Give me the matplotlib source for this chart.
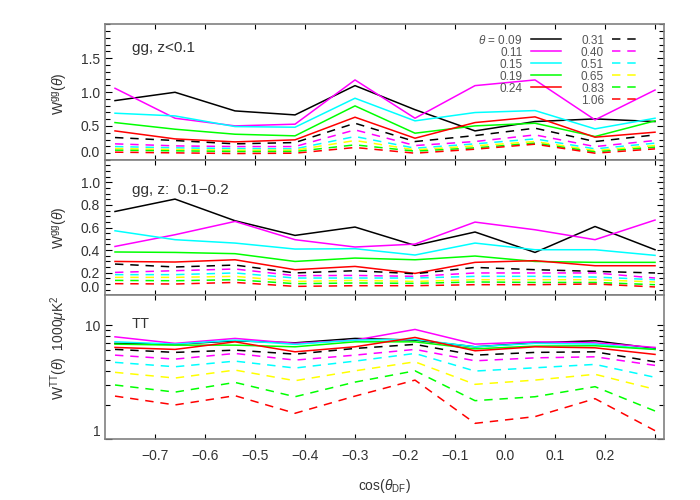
import matplotlib
matplotlib.use("Agg")
import matplotlib.pyplot as plt
import matplotlib.ticker as ticker
from matplotlib.lines import Line2D
import numpy as np

plt.rcParams['font.family'] = ['Liberation Sans', 'DejaVu Sans']
plt.rcParams['mathtext.fontset'] = 'custom'
plt.rcParams['mathtext.rm'] = 'Liberation Sans'
plt.rcParams['mathtext.it'] = 'Liberation Sans:italic'

# bin centres in cos(theta_DF)
cos_df = [-0.78, -0.66, -0.54, -0.42, -0.30, -0.18, -0.06, 0.06, 0.18, 0.30]

theta = ["0.09", "0.11", "0.15", "0.19", "0.24", "0.31", "0.40", "0.51", "0.65", "0.83", "1.06"]
colors = ["black", "#ff00ff", "#00ffff", "#00ff00", "#ff0000",
          "black", "#ff00ff", "#00ffff", "#ffff00", "#00ff00", "#ff0000"]
dashed = [False] * 5 + [True] * 6

# gg, z<0.1
w_gg_z1 = [
    [0.874, 0.997, 0.722, 0.663, 1.095, 0.740, 0.427, 0.565, 0.604, 0.565],
    [1.056, 0.614, 0.501, 0.526, 1.179, 0.614, 1.095, 1.179, 0.590, 1.030],
    [0.688, 0.648, 0.491, 0.481, 0.909, 0.575, 0.698, 0.727, 0.457, 0.614],
    [0.550, 0.452, 0.378, 0.354, 0.796, 0.393, 0.501, 0.540, 0.344, 0.575],
    [0.427, 0.309, 0.265, 0.295, 0.629, 0.319, 0.550, 0.634, 0.334, 0.408],
    [0.329, 0.285, 0.236, 0.255, 0.540, 0.270, 0.358, 0.467, 0.270, 0.368],
    [0.236, 0.206, 0.196, 0.196, 0.442, 0.211, 0.270, 0.368, 0.196, 0.285],
    [0.196, 0.177, 0.167, 0.162, 0.344, 0.172, 0.236, 0.309, 0.162, 0.246],
    [0.167, 0.152, 0.143, 0.143, 0.285, 0.147, 0.206, 0.270, 0.137, 0.211],
    [0.143, 0.133, 0.123, 0.123, 0.221, 0.128, 0.177, 0.246, 0.118, 0.187],
    [0.113, 0.103, 0.093, 0.098, 0.182, 0.098, 0.157, 0.231, 0.098, 0.162],
]

# gg, z: 0.1-0.2
w_gg_z2 = [
    [0.742, 0.852, 0.660, 0.530, 0.604, 0.441, 0.560, 0.379, 0.609, 0.403],
    [0.432, 0.536, 0.654, 0.492, 0.427, 0.453, 0.648, 0.580, 0.492, 0.666],
    [0.571, 0.492, 0.462, 0.409, 0.412, 0.356, 0.462, 0.403, 0.403, 0.353],
    [0.383, 0.379, 0.368, 0.299, 0.329, 0.314, 0.347, 0.299, 0.291, 0.291],
    [0.299, 0.294, 0.314, 0.226, 0.255, 0.193, 0.291, 0.306, 0.261, 0.261],
    [0.276, 0.250, 0.267, 0.197, 0.217, 0.190, 0.246, 0.226, 0.211, 0.197],
    [0.202, 0.217, 0.232, 0.173, 0.175, 0.167, 0.197, 0.197, 0.197, 0.152],
    [0.182, 0.182, 0.197, 0.152, 0.152, 0.152, 0.167, 0.167, 0.161, 0.137],
    [0.158, 0.158, 0.167, 0.122, 0.131, 0.122, 0.137, 0.137, 0.137, 0.117],
    [0.131, 0.128, 0.137, 0.102, 0.108, 0.105, 0.117, 0.113, 0.113, 0.093],
    [0.102, 0.099, 0.113, 0.078, 0.084, 0.084, 0.093, 0.093, 0.099, 0.073],
]

# TT, in 1000 muK^2
w_tt = [
    [6.92, 6.80, 7.29, 7.00, 7.65, 7.39, 6.46, 7.00, 7.29, 6.25],
    [7.90, 6.92, 7.65, 6.92, 7.39, 9.17, 6.82, 7.14, 7.00, 6.38],
    [7.14, 6.82, 7.39, 6.78, 7.39, 7.50, 6.46, 6.92, 6.82, 6.13],
    [6.82, 6.68, 6.68, 6.46, 7.14, 7.14, 6.20, 6.55, 6.60, 6.13],
    [6.38, 6.13, 7.14, 5.84, 6.46, 7.80, 5.96, 6.46, 6.33, 5.54],
    [6.13, 5.77, 6.04, 5.57, 6.25, 6.78, 5.46, 5.77, 5.84, 4.77],
    [5.46, 5.04, 5.65, 4.94, 5.46, 6.13, 4.87, 5.17, 5.28, 4.44],
    [4.72, 4.32, 4.84, 4.21, 4.84, 5.65, 3.96, 4.23, 4.53, 3.49],
    [3.86, 3.44, 4.04, 3.26, 3.98, 4.77, 3.03, 3.30, 3.71, 2.74],
    [2.99, 2.59, 3.15, 2.36, 3.17, 3.98, 2.18, 2.36, 2.89, 1.77],
    [2.39, 2.00, 2.41, 1.69, 2.39, 3.30, 1.38, 1.58, 2.27, 1.19],
]

xticks = [-0.7, -0.6, -0.5, -0.4, -0.3, -0.2, -0.1, 0.0, 0.1, 0.2, 0.3]
xtick_labels = ["\u22120.7", "\u22120.6", "\u22120.5", "\u22120.4", "\u22120.3",
                "\u22120.2", "\u22120.1", "0.0", "0.1", "0.2", ""]

frame_col = "#808080"
text_col = "#333333"
dash = (0, (5.5, 4.5))


def style_axis(ax):
    for sp in ax.spines.values():
        sp.set_color(frame_col)
        sp.set_linewidth(1.2)
    ax.tick_params(which="both", direction="in", top=True, right=True,
                   color="black", labelcolor=text_col, labelsize=10, width=0.8)
    ax.tick_params(axis="y", which="major", length=5)
    ax.tick_params(axis="y", which="minor", length=3.5)
    ax.tick_params(axis="x", which="major", length=3.5, pad=7)


def draw_lines(ax, data):
    for vals, col, ds in zip(data, colors, dashed):
        ax.plot(cos_df, vals, color=col, linestyle=dash if ds else "-", linewidth=1.1)


fig = plt.figure(figsize=(7, 5), dpi=100)
gs = fig.add_gridspec(3, 1, left=0.15, right=0.9486, top=0.9514, bottom=0.1214,
                      hspace=0, height_ratios=[135.7, 135.5, 144.3])
ax1 = fig.add_subplot(gs[0])
ax2 = fig.add_subplot(gs[1], sharex=ax1)
ax3 = fig.add_subplot(gs[2], sharex=ax1)

draw_lines(ax1, w_gg_z1)
draw_lines(ax2, w_gg_z2)
draw_lines(ax3, w_tt)

ax1.set_xlim(-0.8, 0.318)
ax1.set_ylim(0, 2.0)
ax2.set_ylim(0, 1.2)
ax3.set_yscale("log")
ax3.set_ylim(1, 18.3)

ax1.set_yticks([0.0, 0.5, 1.0, 1.5])
ax1.yaxis.set_minor_locator(ticker.MultipleLocator(0.1))
ax2.set_yticks([0.0, 0.2, 0.4, 0.6, 0.8, 1.0])
ax2.yaxis.set_minor_locator(ticker.MultipleLocator(0.05))
for ax in (ax1, ax2):
    ax.yaxis.set_major_formatter(ticker.FormatStrFormatter("%.1f"))
ax3.set_yticks([1, 10])
ax3.yaxis.set_major_formatter(ticker.FormatStrFormatter("%g"))
ax3.yaxis.set_minor_locator(ticker.LogLocator(base=10, subs=np.arange(2, 10)))
ax3.yaxis.set_minor_formatter(ticker.NullFormatter())

ax3.set_xticks(xticks)
ax3.set_xticklabels(xtick_labels)

for ax in (ax1, ax2, ax3):
    style_axis(ax)
    ax.yaxis.get_major_ticks()[0].label1.set_va("bottom")
for ax in (ax1, ax2):
    ax.tick_params(labelbottom=False)

ax1.text(0.048, 0.825, "gg, z<0.1", transform=ax1.transAxes, fontsize=11,
         color=text_col, va="center")
ax2.text(0.048, 0.779, "gg, z:  0.1\u22120.2", transform=ax2.transAxes, fontsize=11,
         color=text_col, va="center")
ax3.text(0.048, 0.80, "TT", transform=ax3.transAxes, fontsize=10.5,
         color=text_col, va="center")

ax1.set_ylabel(r"W$^{\rm gg}$($\theta$)", fontsize=10, color=text_col)
ax2.set_ylabel(r"W$^{\rm gg}$($\theta$)", fontsize=10, color=text_col)
ax3.set_ylabel(r"W$^{\rm TT}$($\theta$)  1000$\mu$K$^2$", fontsize=10, color=text_col)
ax1.yaxis.set_label_coords(-0.062, 0.49)
ax2.yaxis.set_label_coords(-0.062, 0.50)
ax3.yaxis.set_label_coords(-0.062, 0.633)
ax3.set_xlabel(r"cos($\theta_{\rm DF}$)", fontsize=10, color=text_col, labelpad=10)

# legend: 5 solid in first column, 6 dashed in second
handles = []
labels = []
for i, (t, col, ds) in enumerate(zip(theta, colors, dashed)):
    handles.append(Line2D([], [], color=col, linestyle=dash if ds else "-", linewidth=1.1))
    labels.append((r"$\theta$ = " if i == 0 else "") + t)
    if i == 4:
        handles.append(Line2D([], [], linestyle="none"))
        labels.append("")
ax1.legend(handles, labels, ncol=2, loc="upper right", bbox_to_anchor=(0.972, 0.975),
           frameon=False, markerfirst=False, fontsize=8.5, labelcolor="#555555",
           handlelength=2.55, handletextpad=0.7, columnspacing=1.7,
           labelspacing=0.0, borderpad=0)

fig.savefig("out.png", dpi=100)
